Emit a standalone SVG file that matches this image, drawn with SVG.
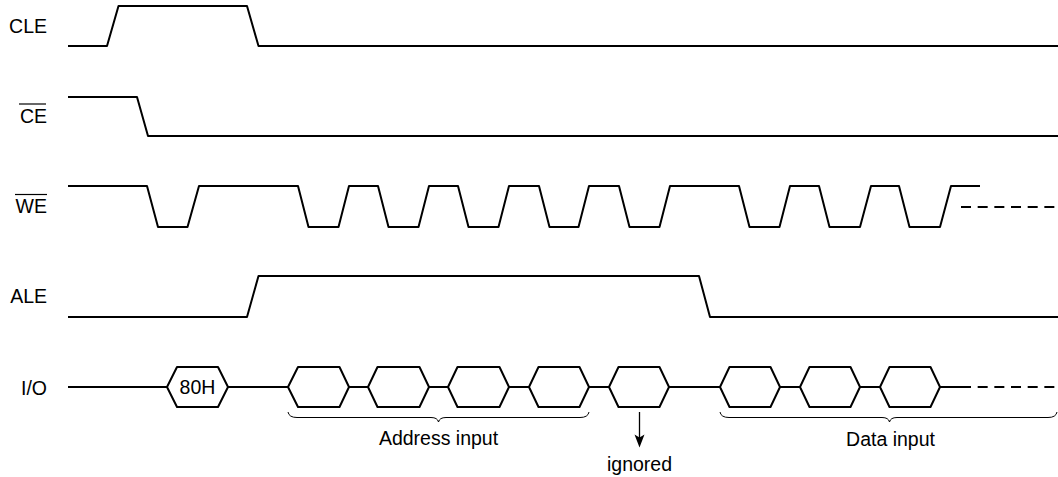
<svg xmlns="http://www.w3.org/2000/svg" width="1058" height="477" viewBox="0 0 1058 477">
<style>
.sig{fill:none;stroke:#000;stroke-width:2;stroke-linejoin:round}
.hex{fill:#fff;stroke:#000;stroke-width:2;stroke-linejoin:round}
.dash{fill:none;stroke:#000;stroke-width:2;stroke-dasharray:10 6.67}
.brace{fill:none;stroke:#000;stroke-width:1}
.ov{stroke:#000;stroke-width:1.2}
text{font-family:"Liberation Sans",Arial,sans-serif;font-size:19.5px;fill:#000}
.lab{text-anchor:end}
.mid{text-anchor:middle}
</style>
<rect width="1058" height="477" fill="#fff"/>
<g id="CLE">
<text class="lab" x="47" y="33">CLE</text>
<path class="sig" d="M68 46 L107 46 L118.5 6 L247 6 L258.5 46 L1058 46"/>
</g>
<g id="CE">
<text class="lab" x="47" y="122.5">CE</text>
<line class="ov" x1="19" y1="104" x2="46" y2="104"/>
<path class="sig" d="M68 97 L137 97 L148 136 L1058 136"/>
</g>
<g id="WE">
<text class="lab" x="47" y="213">WE</text>
<line class="ov" x1="15" y1="194.5" x2="47" y2="194.5"/>
<path class="sig" d="M68 186 L147 186 L158 227 L187.5 227 L199 186
L298 186 L308.5 227 L338.5 227 L349 186
L378 186 L388.5 227 L418.5 227 L429 186
L458 186 L468.5 227 L498.5 227 L509 186
L539 186 L549.5 227 L578.5 227 L589 186
L619 186 L629.5 227 L659.5 227 L670 186
L739 186 L749.5 227 L779.5 227 L790 186
L819 186 L829.5 227 L860 227 L871 186
L899 186 L909.5 227 L940 227 L951 186 L980 186"/>
<path class="dash" d="M961 207 L1058 207"/>
</g>
<g id="ALE">
<text class="lab" x="47" y="303">ALE</text>
<path class="sig" d="M68 317 L247 317 L258.5 276 L699 276 L710 317 L1058 317"/>
</g>
<g id="IO">
<text class="lab" x="47" y="395">I/O</text>
</g>
<g id="connectors">
<path class="sig" d="M68 387 L167 387 M228 387 L288 387 M349 387 L368 387 M429 387 L448 387 M509 387 L529 387 M589 387 L609 387 M669 387 L720 387 M780 387 L800 387 M860 387 L880 387 M940 387 L961 387"/>
<path class="dash" d="M961 387 L1058 387"/>
<line x1="639.5" y1="412" x2="639.5" y2="438" stroke="#000" stroke-width="1.3"/>
<polygon points="634.5,434.5 639.5,437.5 644.5,434.5 639.5,447.5" fill="#000"/>
</g>
<g id="hex-80H">
<polygon class="hex" points="167,387 177,367 218,367 228,387 218,407 177,407"/>
<text class="mid" x="197.5" y="394">80H</text>
</g>
<g id="hex-addr1"><polygon class="hex" points="288,387 298,367 339.5,367 349,387 339.5,407 298,407"/></g>
<g id="hex-addr2"><polygon class="hex" points="368,387 377.5,367 419.5,367 429,387 419.5,407 377.5,407"/></g>
<g id="hex-addr3"><polygon class="hex" points="448,387 457.5,367 499.5,367 509,387 499.5,407 457.5,407"/></g>
<g id="hex-addr4"><polygon class="hex" points="529,387 538.5,367 579.5,367 589,387 579.5,407 538.5,407"/></g>
<g id="hex-ignored"><polygon class="hex" points="609,387 618.5,367 659.5,367 669,387 659.5,407 618.5,407"/></g>
<g id="hex-data1"><polygon class="hex" points="720,387 729.5,367 770.5,367 780,387 770.5,407 729.5,407"/></g>
<g id="hex-data2"><polygon class="hex" points="800,387 809.5,367 850.5,367 860,387 850.5,407 809.5,407"/></g>
<g id="hex-data3"><polygon class="hex" points="880,387 889.5,367 930.5,367 940,387 930.5,407 889.5,407"/></g>
<g id="address-brace">
<path class="brace" d="M288 412 Q289 417.5 297 417.5 L431 417.5 Q437.5 417.5 438.5 422 Q439.5 417.5 446 417.5 L580 417.5 Q588 417.5 589 412"/>
<text class="mid" x="438.5" y="445">Address input</text>
</g>
<g id="data-brace">
<path class="brace" d="M720 412 Q721 417.5 729 417.5 L882 417.5 Q888.5 417.5 889.5 422 Q890.5 417.5 897 417.5 L1048 417.5 Q1056 417.5 1057 412"/>
<text class="mid" x="890.5" y="445.5">Data input</text>
</g>
<g id="ignored-label">
<text class="mid" x="639.5" y="471">ignored</text>
</g>
</svg>
